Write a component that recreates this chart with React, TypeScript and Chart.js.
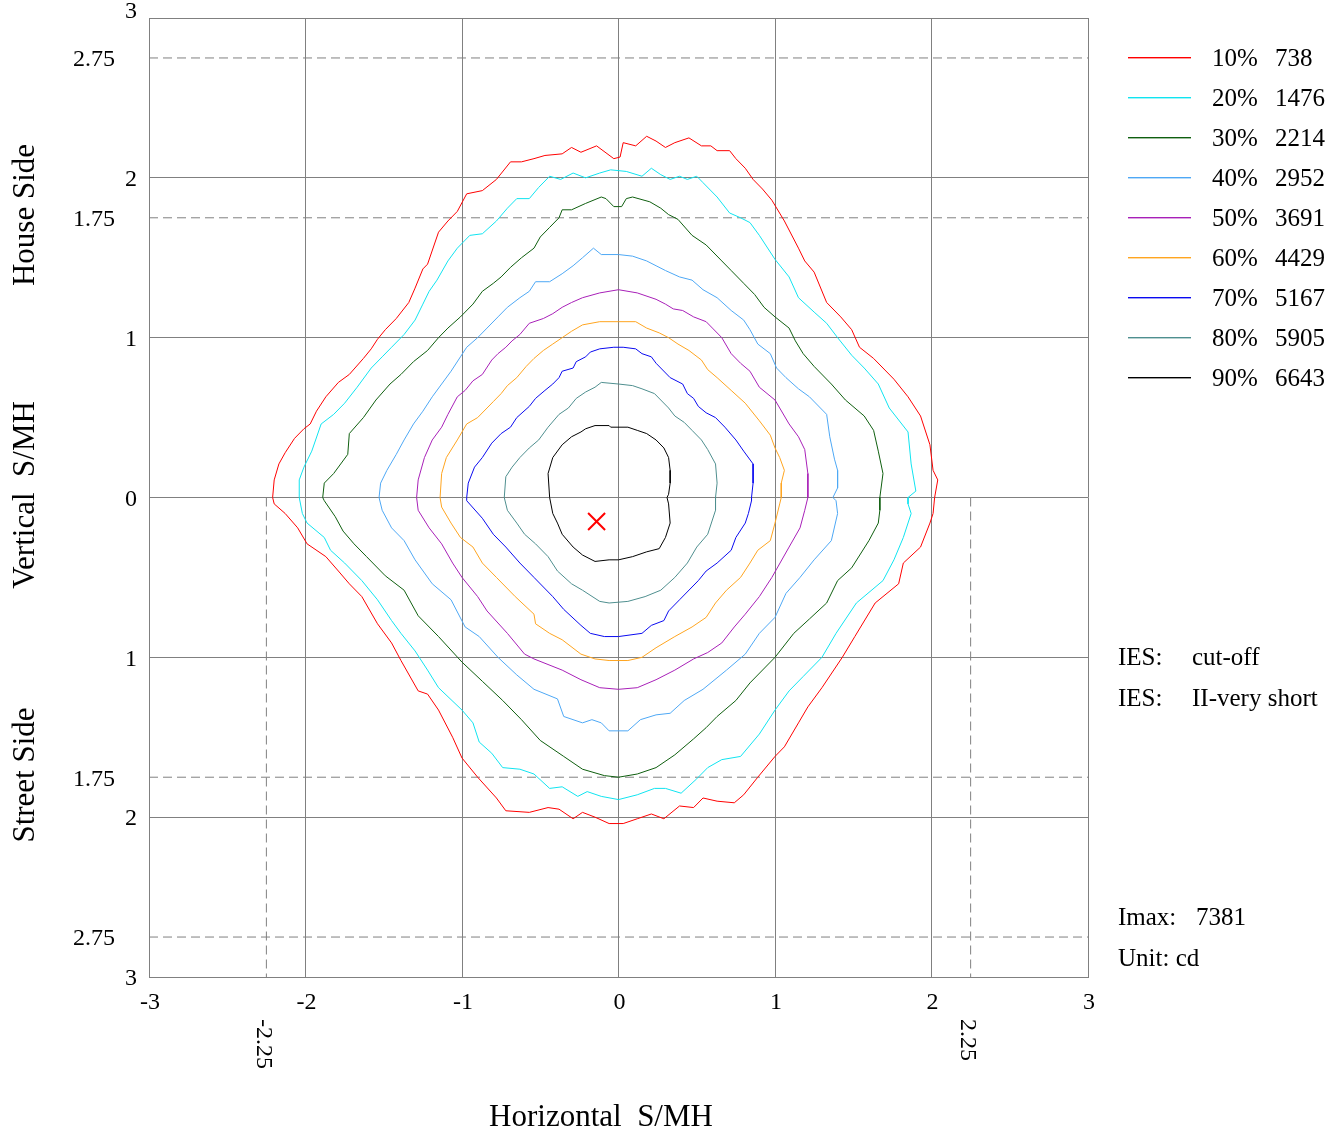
import { useEffect, useRef } from 'react';
import { Chart, registerables } from 'chart.js';

Chart.register(...registerables);

const FONT = '"Liberation Serif", "Times New Roman", serif';

// Axis ticks and guide lines
const xTicks = [-3, -2, -1, 0, 1, 2, 3];
const yTicks = [3, 2.75, 2, 1.75, 1, 0, -1, -1.75, -2, -2.75, -3];
const xGuides = [-2.25, 2.25];
const yGuides = [2.75, 1.75, -1.75, -2.75];

// Legend
const levelLabels = ['10%', '20%', '30%', '40%', '50%', '60%', '70%', '80%', '90%'];
const levelValues = [738, 1476, 2214, 2952, 3691, 4429, 5167, 5905, 6643];
const levelColors = ['#ff0000', '#10e4f0', '#0f5f0f', '#4ea8f5', '#a820b8', '#ffa520', '#0a0af0', '#4f8f8f', '#000000'];

const imax = 7381;
const maxPoint = [-0.14, -0.15];

// Iso-candela contours [x, y] in S/MH
const contour10 = [
  [-2.21, 0.0], [-2.2, 0.11], [-2.17, 0.21], [-2.13, 0.28], [-2.07, 0.37], [-2.01, 0.43], [-1.97, 0.46], [-1.93, 0.54], [-1.87, 0.63], [-1.79, 0.72], [-1.72, 0.77], [-1.63, 0.87], [-1.58, 0.93], [-1.54, 0.99], [-1.49, 1.05], [-1.42, 1.12], [-1.34, 1.22], [-1.3, 1.31], [-1.25, 1.43], [-1.22, 1.46], [-1.15, 1.66], [-1.09, 1.73], [-1.03, 1.79], [-0.97, 1.9], [-0.87, 1.92], [-0.78, 1.99], [-0.69, 2.1], [-0.62, 2.1], [-0.54, 2.12], [-0.47, 2.14], [-0.36, 2.15], [-0.3, 2.19], [-0.24, 2.16], [-0.14, 2.2], [-0.03, 2.12], [0.01, 2.13], [0.03, 2.22], [0.11, 2.2], [0.18, 2.26], [0.24, 2.23], [0.3, 2.19], [0.36, 2.22], [0.45, 2.25], [0.53, 2.2], [0.59, 2.2], [0.63, 2.17], [0.71, 2.17], [0.75, 2.12], [0.81, 2.06], [0.86, 1.99], [0.92, 1.93], [0.98, 1.86], [1.06, 1.73], [1.15, 1.56], [1.19, 1.48], [1.25, 1.41], [1.33, 1.22], [1.42, 1.13], [1.49, 1.05], [1.54, 0.94], [1.63, 0.87], [1.76, 0.74], [1.85, 0.63], [1.93, 0.51], [1.99, 0.33], [2.01, 0.17], [2.04, 0.11], [2.02, 0.0],
  [2.01, -0.1], [1.99, -0.16], [1.93, -0.31], [1.82, -0.41], [1.79, -0.54], [1.64, -0.66], [1.51, -0.87], [1.43, -1.0], [1.3, -1.19], [1.21, -1.31], [1.15, -1.41], [1.06, -1.56], [1.0, -1.62], [0.89, -1.75], [0.8, -1.86], [0.74, -1.91], [0.63, -1.9], [0.54, -1.88], [0.48, -1.94], [0.39, -1.93], [0.29, -2.01], [0.21, -1.98], [0.12, -2.01], [0.03, -2.04], [-0.06, -2.04], [-0.15, -2.0], [-0.23, -1.97], [-0.29, -2.01], [-0.38, -1.95], [-0.45, -1.94], [-0.57, -1.97], [-0.72, -1.96], [-0.78, -1.88], [-0.9, -1.75], [-1.0, -1.63], [-1.06, -1.5], [-1.15, -1.33], [-1.22, -1.23], [-1.28, -1.21], [-1.39, -1.02], [-1.45, -0.91], [-1.54, -0.79], [-1.64, -0.62], [-1.72, -0.54], [-1.79, -0.46], [-1.87, -0.37], [-1.99, -0.29], [-2.05, -0.19], [-2.13, -0.1], [-2.2, -0.04],
];
const contour20 = [
  [-2.04, 0.0], [-2.04, 0.11], [-2.01, 0.19], [-1.96, 0.29], [-1.9, 0.46], [-1.82, 0.52], [-1.75, 0.59], [-1.67, 0.69], [-1.58, 0.81], [-1.51, 0.88], [-1.45, 0.94], [-1.37, 1.02], [-1.3, 1.11], [-1.25, 1.21], [-1.21, 1.29], [-1.16, 1.36], [-1.09, 1.48], [-1.03, 1.56], [-0.95, 1.64], [-0.87, 1.65], [-0.78, 1.73], [-0.71, 1.81], [-0.65, 1.87], [-0.57, 1.87], [-0.51, 1.94], [-0.44, 2.01], [-0.37, 1.99], [-0.29, 2.03], [-0.21, 2.0], [-0.12, 2.03], [-0.05, 2.05], [0.05, 2.04], [0.15, 2.01], [0.21, 2.06], [0.27, 2.02], [0.33, 1.99], [0.39, 2.01], [0.44, 1.99], [0.5, 2.01], [0.54, 1.97], [0.63, 1.88], [0.71, 1.78], [0.78, 1.75], [0.84, 1.72], [0.9, 1.64], [1.0, 1.49], [1.09, 1.38], [1.15, 1.25], [1.25, 1.16], [1.33, 1.09], [1.4, 1.0], [1.49, 0.89], [1.57, 0.81], [1.66, 0.71], [1.73, 0.56], [1.85, 0.41], [1.87, 0.21], [1.9, 0.04], [1.85, 0.0],
  [1.85, -0.04], [1.87, -0.1], [1.82, -0.25], [1.76, -0.39], [1.69, -0.52], [1.52, -0.66], [1.39, -0.85], [1.3, -1.0], [1.18, -1.12], [1.09, -1.21], [1.0, -1.33], [0.9, -1.48], [0.78, -1.62], [0.66, -1.64], [0.57, -1.69], [0.5, -1.76], [0.4, -1.85], [0.3, -1.82], [0.23, -1.82], [0.12, -1.86], [0.0, -1.89], [-0.11, -1.87], [-0.2, -1.84], [-0.26, -1.87], [-0.36, -1.81], [-0.44, -1.82], [-0.54, -1.73], [-0.63, -1.7], [-0.74, -1.69], [-0.81, -1.6], [-0.89, -1.53], [-0.93, -1.41], [-1.0, -1.33], [-1.15, -1.19], [-1.22, -1.08], [-1.3, -0.96], [-1.39, -0.85], [-1.45, -0.77], [-1.54, -0.64], [-1.64, -0.52], [-1.75, -0.41], [-1.84, -0.33], [-1.88, -0.25], [-1.99, -0.16], [-2.02, -0.1],
];
const contour30 = [
  [-1.89, 0.0], [-1.88, 0.09], [-1.82, 0.15], [-1.73, 0.27], [-1.72, 0.4], [-1.63, 0.5], [-1.55, 0.61], [-1.46, 0.71], [-1.39, 0.77], [-1.31, 0.85], [-1.22, 0.92], [-1.15, 1.0], [-1.09, 1.06], [-1.01, 1.13], [-0.93, 1.21], [-0.87, 1.29], [-0.8, 1.34], [-0.75, 1.38], [-0.69, 1.44], [-0.62, 1.5], [-0.54, 1.56], [-0.5, 1.63], [-0.44, 1.69], [-0.38, 1.75], [-0.36, 1.8], [-0.3, 1.8], [-0.21, 1.84], [-0.11, 1.88], [-0.08, 1.87], [-0.03, 1.82], [0.02, 1.82], [0.05, 1.87], [0.09, 1.88], [0.2, 1.85], [0.27, 1.81], [0.32, 1.77], [0.38, 1.74], [0.47, 1.64], [0.56, 1.58], [0.66, 1.48], [0.72, 1.42], [0.8, 1.34], [0.87, 1.27], [0.93, 1.19], [1.0, 1.13], [1.09, 1.06], [1.13, 0.98], [1.18, 0.9], [1.25, 0.82], [1.36, 0.71], [1.45, 0.61], [1.57, 0.51], [1.63, 0.42], [1.66, 0.29], [1.69, 0.15], [1.67, 0.0],
  [1.67, -0.08], [1.66, -0.16], [1.6, -0.27], [1.49, -0.44], [1.4, -0.52], [1.33, -0.66], [1.22, -0.76], [1.12, -0.85], [1.0, -1.0], [0.84, -1.16], [0.75, -1.27], [0.63, -1.37], [0.56, -1.44], [0.48, -1.51], [0.36, -1.61], [0.24, -1.69], [0.12, -1.73], [0.0, -1.75], [-0.09, -1.74], [-0.23, -1.7], [-0.35, -1.62], [-0.5, -1.52], [-0.62, -1.39], [-0.74, -1.27], [-0.87, -1.15], [-1.0, -1.03], [-1.15, -0.87], [-1.28, -0.74], [-1.37, -0.58], [-1.49, -0.49], [-1.61, -0.37], [-1.69, -0.29], [-1.76, -0.21], [-1.81, -0.12], [-1.88, -0.02],
];
const contour40 = [
  [-1.53, 0.0], [-1.52, 0.09], [-1.48, 0.17], [-1.42, 0.27], [-1.37, 0.36], [-1.31, 0.46], [-1.25, 0.54], [-1.19, 0.63], [-1.13, 0.71], [-1.07, 0.79], [-1.01, 0.88], [-0.97, 0.94], [-0.9, 1.0], [-0.84, 1.06], [-0.77, 1.13], [-0.71, 1.19], [-0.63, 1.25], [-0.57, 1.29], [-0.53, 1.35], [-0.44, 1.35], [-0.36, 1.4], [-0.29, 1.45], [-0.23, 1.5], [-0.16, 1.56], [-0.11, 1.52], [0.0, 1.52], [0.09, 1.51], [0.18, 1.48], [0.24, 1.45], [0.3, 1.42], [0.39, 1.38], [0.47, 1.36], [0.54, 1.3], [0.63, 1.25], [0.72, 1.17], [0.8, 1.11], [0.84, 1.05], [0.89, 0.96], [0.97, 0.9], [1.01, 0.81], [1.07, 0.75], [1.15, 0.68], [1.22, 0.63], [1.33, 0.52], [1.35, 0.38], [1.38, 0.24], [1.4, 0.17], [1.4, 0.06], [1.37, 0.0],
  [1.39, -0.02], [1.4, -0.1], [1.36, -0.27], [1.25, -0.39], [1.16, -0.5], [1.07, -0.6], [1.0, -0.75], [0.9, -0.85], [0.81, -0.98], [0.69, -1.08], [0.54, -1.2], [0.42, -1.27], [0.33, -1.35], [0.24, -1.36], [0.14, -1.39], [0.06, -1.46], [-0.06, -1.46], [-0.11, -1.41], [-0.17, -1.39], [-0.23, -1.41], [-0.35, -1.37], [-0.39, -1.26], [-0.54, -1.2], [-0.65, -1.11], [-0.77, -1.0], [-0.89, -0.87], [-0.98, -0.81], [-1.07, -0.64], [-1.19, -0.54], [-1.3, -0.39], [-1.37, -0.27], [-1.45, -0.19], [-1.51, -0.08],
];
const contour50 = [
  [-1.29, 0.0], [-1.28, 0.11], [-1.24, 0.25], [-1.19, 0.36], [-1.13, 0.44], [-1.09, 0.52], [-1.03, 0.63], [-0.98, 0.67], [-0.93, 0.73], [-0.87, 0.77], [-0.81, 0.86], [-0.77, 0.9], [-0.72, 0.94], [-0.68, 0.98], [-0.63, 1.02], [-0.57, 1.09], [-0.48, 1.12], [-0.42, 1.15], [-0.36, 1.19], [-0.3, 1.22], [-0.23, 1.25], [-0.12, 1.28], [0.0, 1.3], [0.12, 1.28], [0.24, 1.24], [0.3, 1.21], [0.35, 1.18], [0.41, 1.17], [0.48, 1.13], [0.56, 1.1], [0.6, 1.06], [0.66, 1.0], [0.72, 0.9], [0.78, 0.84], [0.84, 0.79], [0.9, 0.69], [1.0, 0.61], [1.09, 0.46], [1.15, 0.38], [1.19, 0.3], [1.21, 0.15], [1.21, 0.0],
  [1.19, -0.08], [1.16, -0.19], [1.09, -0.31], [0.98, -0.5], [0.9, -0.62], [0.81, -0.73], [0.74, -0.81], [0.66, -0.91], [0.57, -0.97], [0.48, -1.01], [0.36, -1.08], [0.24, -1.14], [0.12, -1.19], [0.0, -1.2], [-0.12, -1.19], [-0.24, -1.14], [-0.36, -1.08], [-0.54, -1.01], [-0.6, -0.98], [-0.71, -0.85], [-0.84, -0.71], [-0.9, -0.62], [-1.0, -0.5], [-1.06, -0.41], [-1.13, -0.29], [-1.21, -0.19], [-1.28, -0.08],
];
const contour60 = [
  [-1.14, 0.0], [-1.13, 0.15], [-1.1, 0.25], [-1.03, 0.36], [-0.97, 0.46], [-0.9, 0.5], [-0.84, 0.56], [-0.8, 0.6], [-0.75, 0.65], [-0.71, 0.7], [-0.65, 0.75], [-0.59, 0.82], [-0.54, 0.87], [-0.48, 0.92], [-0.42, 0.96], [-0.36, 1.0], [-0.3, 1.04], [-0.23, 1.08], [-0.12, 1.1], [0.0, 1.1], [0.11, 1.1], [0.18, 1.06], [0.26, 1.03], [0.32, 1.0], [0.38, 0.96], [0.45, 0.92], [0.53, 0.86], [0.57, 0.8], [0.63, 0.75], [0.72, 0.67], [0.81, 0.59], [0.9, 0.48], [0.97, 0.39], [1.0, 0.31], [1.03, 0.25], [1.06, 0.17], [1.04, 0.09], [1.04, 0.0],
  [1.03, -0.04], [1.0, -0.16], [0.97, -0.27], [0.89, -0.33], [0.84, -0.41], [0.78, -0.5], [0.69, -0.58], [0.62, -0.66], [0.56, -0.75], [0.47, -0.81], [0.36, -0.87], [0.24, -0.94], [0.15, -1.0], [0.06, -1.02], [-0.06, -1.02], [-0.15, -1.01], [-0.24, -0.98], [-0.36, -0.89], [-0.44, -0.85], [-0.53, -0.79], [-0.54, -0.73], [-0.66, -0.62], [-0.78, -0.5], [-0.87, -0.41], [-0.93, -0.31], [-1.01, -0.25], [-1.07, -0.16], [-1.13, -0.06],
];
const contour70 = [
  [-0.97, 0.0], [-0.96, 0.09], [-0.92, 0.19], [-0.87, 0.25], [-0.81, 0.34], [-0.75, 0.4], [-0.69, 0.44], [-0.65, 0.5], [-0.57, 0.57], [-0.53, 0.62], [-0.47, 0.67], [-0.42, 0.71], [-0.38, 0.75], [-0.36, 0.79], [-0.29, 0.81], [-0.27, 0.85], [-0.21, 0.88], [-0.18, 0.91], [-0.12, 0.93], [-0.03, 0.94], [0.03, 0.94], [0.11, 0.93], [0.15, 0.9], [0.21, 0.88], [0.24, 0.84], [0.33, 0.75], [0.41, 0.71], [0.44, 0.65], [0.48, 0.62], [0.51, 0.57], [0.56, 0.53], [0.62, 0.5], [0.68, 0.44], [0.75, 0.36], [0.8, 0.29], [0.86, 0.21], [0.86, 0.09], [0.85, 0.0],
  [0.85, -0.02], [0.83, -0.1], [0.81, -0.16], [0.75, -0.25], [0.72, -0.33], [0.63, -0.41], [0.56, -0.46], [0.51, -0.52], [0.39, -0.64], [0.32, -0.71], [0.29, -0.77], [0.21, -0.8], [0.15, -0.85], [0.0, -0.87], [-0.09, -0.87], [-0.18, -0.85], [-0.24, -0.8], [-0.35, -0.7], [-0.42, -0.62], [-0.54, -0.5], [-0.63, -0.41], [-0.72, -0.31], [-0.8, -0.23], [-0.87, -0.13], [-0.97, -0.02],
];
const contour80 = [
  [-0.73, 0.0], [-0.72, 0.13], [-0.68, 0.19], [-0.63, 0.25], [-0.57, 0.31], [-0.51, 0.36], [-0.45, 0.44], [-0.38, 0.52], [-0.32, 0.56], [-0.27, 0.62], [-0.21, 0.66], [-0.15, 0.69], [-0.11, 0.72], [0.0, 0.71], [0.09, 0.7], [0.15, 0.68], [0.23, 0.65], [0.27, 0.61], [0.32, 0.56], [0.36, 0.51], [0.42, 0.47], [0.47, 0.42], [0.53, 0.36], [0.57, 0.3], [0.62, 0.21], [0.63, 0.09], [0.62, 0.0],
  [0.62, -0.08], [0.57, -0.23], [0.5, -0.31], [0.44, -0.41], [0.36, -0.5], [0.27, -0.58], [0.17, -0.62], [0.06, -0.65], [-0.06, -0.66], [-0.12, -0.65], [-0.23, -0.58], [-0.3, -0.54], [-0.39, -0.46], [-0.45, -0.37], [-0.53, -0.29], [-0.6, -0.23], [-0.65, -0.16], [-0.71, -0.08],
];
const contour90 = [
  [-0.44, 0.0], [-0.45, 0.15], [-0.42, 0.25], [-0.36, 0.33], [-0.3, 0.38], [-0.24, 0.41], [-0.21, 0.43], [-0.15, 0.45], [-0.06, 0.45], [-0.05, 0.44], [0.06, 0.44], [0.12, 0.42], [0.18, 0.4], [0.24, 0.36], [0.29, 0.31], [0.32, 0.25], [0.33, 0.17], [0.33, 0.09], [0.32, 0.02], [0.31, 0.0],
  [0.32, -0.04], [0.33, -0.16], [0.3, -0.25], [0.26, -0.32], [0.18, -0.34], [0.09, -0.37], [0.0, -0.39], [-0.06, -0.39], [-0.15, -0.4], [-0.23, -0.36], [-0.29, -0.31], [-0.36, -0.23], [-0.39, -0.16], [-0.42, -0.1],
];

const contours = [contour10, contour20, contour30, contour40, contour50, contour60, contour70, contour80, contour90];

const closed = (pts: number[][]) => [...pts, pts[0]].map(([x, y]) => ({ x, y }));

const GRID = '#808080';

const textPlugin = {
  id: 'iesText',
  afterDraw(chart: any) {
    const ctx = chart.ctx as CanvasRenderingContext2D;
    const xs = chart.scales.x;
    const ys = chart.scales.y;
    ctx.save();
    ctx.setLineDash([]);
    ctx.globalAlpha = 1;
    ctx.fillStyle = '#000';
    ctx.textBaseline = 'middle';

    // x tick labels
    ctx.font = `24px ${FONT}`;
    ctx.textAlign = 'center';
    xTicks.forEach((v) => ctx.fillText(String(v), xs.getPixelForValue(v) + 1, ys.bottom + 26));

    // y tick labels (absolute values)
    ctx.textAlign = 'right';
    yTicks.forEach((v, i) => {
      const isInt = Number.isInteger(v);
      const py = i === 0 ? ys.getPixelForValue(v) - 6 : ys.getPixelForValue(v) + 2;
      ctx.fillText(String(Math.abs(v)), xs.left - (isInt ? 12 : 34), py);
    });

    // rotated guide labels
    xGuides.forEach((v) => {
      ctx.save();
      ctx.translate(xs.getPixelForValue(v) - 3, ys.bottom + 42);
      ctx.rotate(Math.PI / 2);
      ctx.textAlign = 'left';
      ctx.fillText(String(v), 0, 0);
      ctx.restore();
    });

    // axis titles
    ctx.font = `31px ${FONT}`;
    ctx.textAlign = 'center';
    ctx.fillText('Horizontal  S/MH', 601, 1118);
    const vTitles: [string, number][] = [['House Side', 215], ['Vertical  S/MH', 495], ['Street Side', 775]];
    vTitles.forEach(([t, cy]) => {
      ctx.save();
      ctx.translate(26, cy);
      ctx.rotate(-Math.PI / 2);
      ctx.fillText(t, 0, 0);
      ctx.restore();
    });

    // legend
    ctx.font = `25px ${FONT}`;
    ctx.textAlign = 'left';
    levelLabels.forEach((lbl, i) => {
      const y = 58 + 40 * i;
      ctx.fillStyle = levelColors[i];
      ctx.fillRect(1128, y - 1, 63, 1.4);
      ctx.fillStyle = '#000';
      ctx.fillText(lbl, 1212, y + 1);
      ctx.fillText(String(levelValues[i]), 1275, y + 1);
    });

    // annotations
    ctx.fillText('IES:', 1118, 658);
    ctx.fillText('cut-off', 1192, 658);
    ctx.fillText('IES:', 1118, 699);
    ctx.fillText('II-very short', 1192, 699);
    ctx.fillText('Imax:', 1118, 918);
    ctx.fillText(String(imax), 1196, 918);
    ctx.fillText('Unit: cd', 1118, 959);
    ctx.restore();
  },
};

export default function App() {
  const ref = useRef<HTMLCanvasElement>(null);

  useEffect(() => {
    const datasets: any[] = [];
    datasets.push({
      data: [{ x: maxPoint[0], y: maxPoint[1] }],
      showLine: false,
      pointStyle: 'crossRot',
      pointRadius: 12,
      borderColor: '#ff0000',
      backgroundColor: '#ff0000',
      pointBorderWidth: 2,
    });
    contours.forEach((c, i) => {
      datasets.push({
        data: closed(c),
        showLine: true,
        borderColor: levelColors[i],
        borderWidth: 1,
        pointRadius: 0,
        tension: 0,
        fill: false,
      });
    });
    yGuides.forEach((v) => {
      datasets.push({
        data: [{ x: -3, y: v }, { x: 3, y: v }],
        showLine: true,
        borderColor: GRID,
        borderWidth: 1,
        borderDash: [9, 5],
        pointRadius: 0,
      });
    });
    xGuides.forEach((v) => {
      datasets.push({
        data: [{ x: v, y: 0 }, { x: v, y: -3 }],
        showLine: true,
        borderColor: GRID,
        borderWidth: 1,
        borderDash: [9, 5],
        pointRadius: 0,
      });
    });

    const chart = new Chart(ref.current!, {
      type: 'scatter',
      data: { datasets },
      options: {
        responsive: false,
        animation: false,
        layout: { padding: { left: 149, right: 255, top: 18, bottom: 156 } },
        plugins: { legend: { display: false }, tooltip: { enabled: false } },
        scales: {
          x: {
            type: 'linear',
            min: -3,
            max: 3,
            ticks: { stepSize: 1, display: false },
            grid: { color: GRID, drawTicks: false, lineWidth: 1 },
            border: { display: true, color: GRID },
          },
          y: {
            type: 'linear',
            min: -3,
            max: 3,
            ticks: { stepSize: 1, display: false },
            grid: { color: GRID, drawTicks: false, lineWidth: 1 },
            border: { display: true, color: GRID },
          },
        },
      },
      plugins: [textPlugin],
    });
    return () => chart.destroy();
  }, []);

  return (
    <div style={{ position: 'absolute', left: 0, top: 0, width: 1343, height: 1133, background: '#fff' }}>
      <canvas ref={ref} width={1343} height={1133} style={{ display: 'block' }} />
    </div>
  );
}
